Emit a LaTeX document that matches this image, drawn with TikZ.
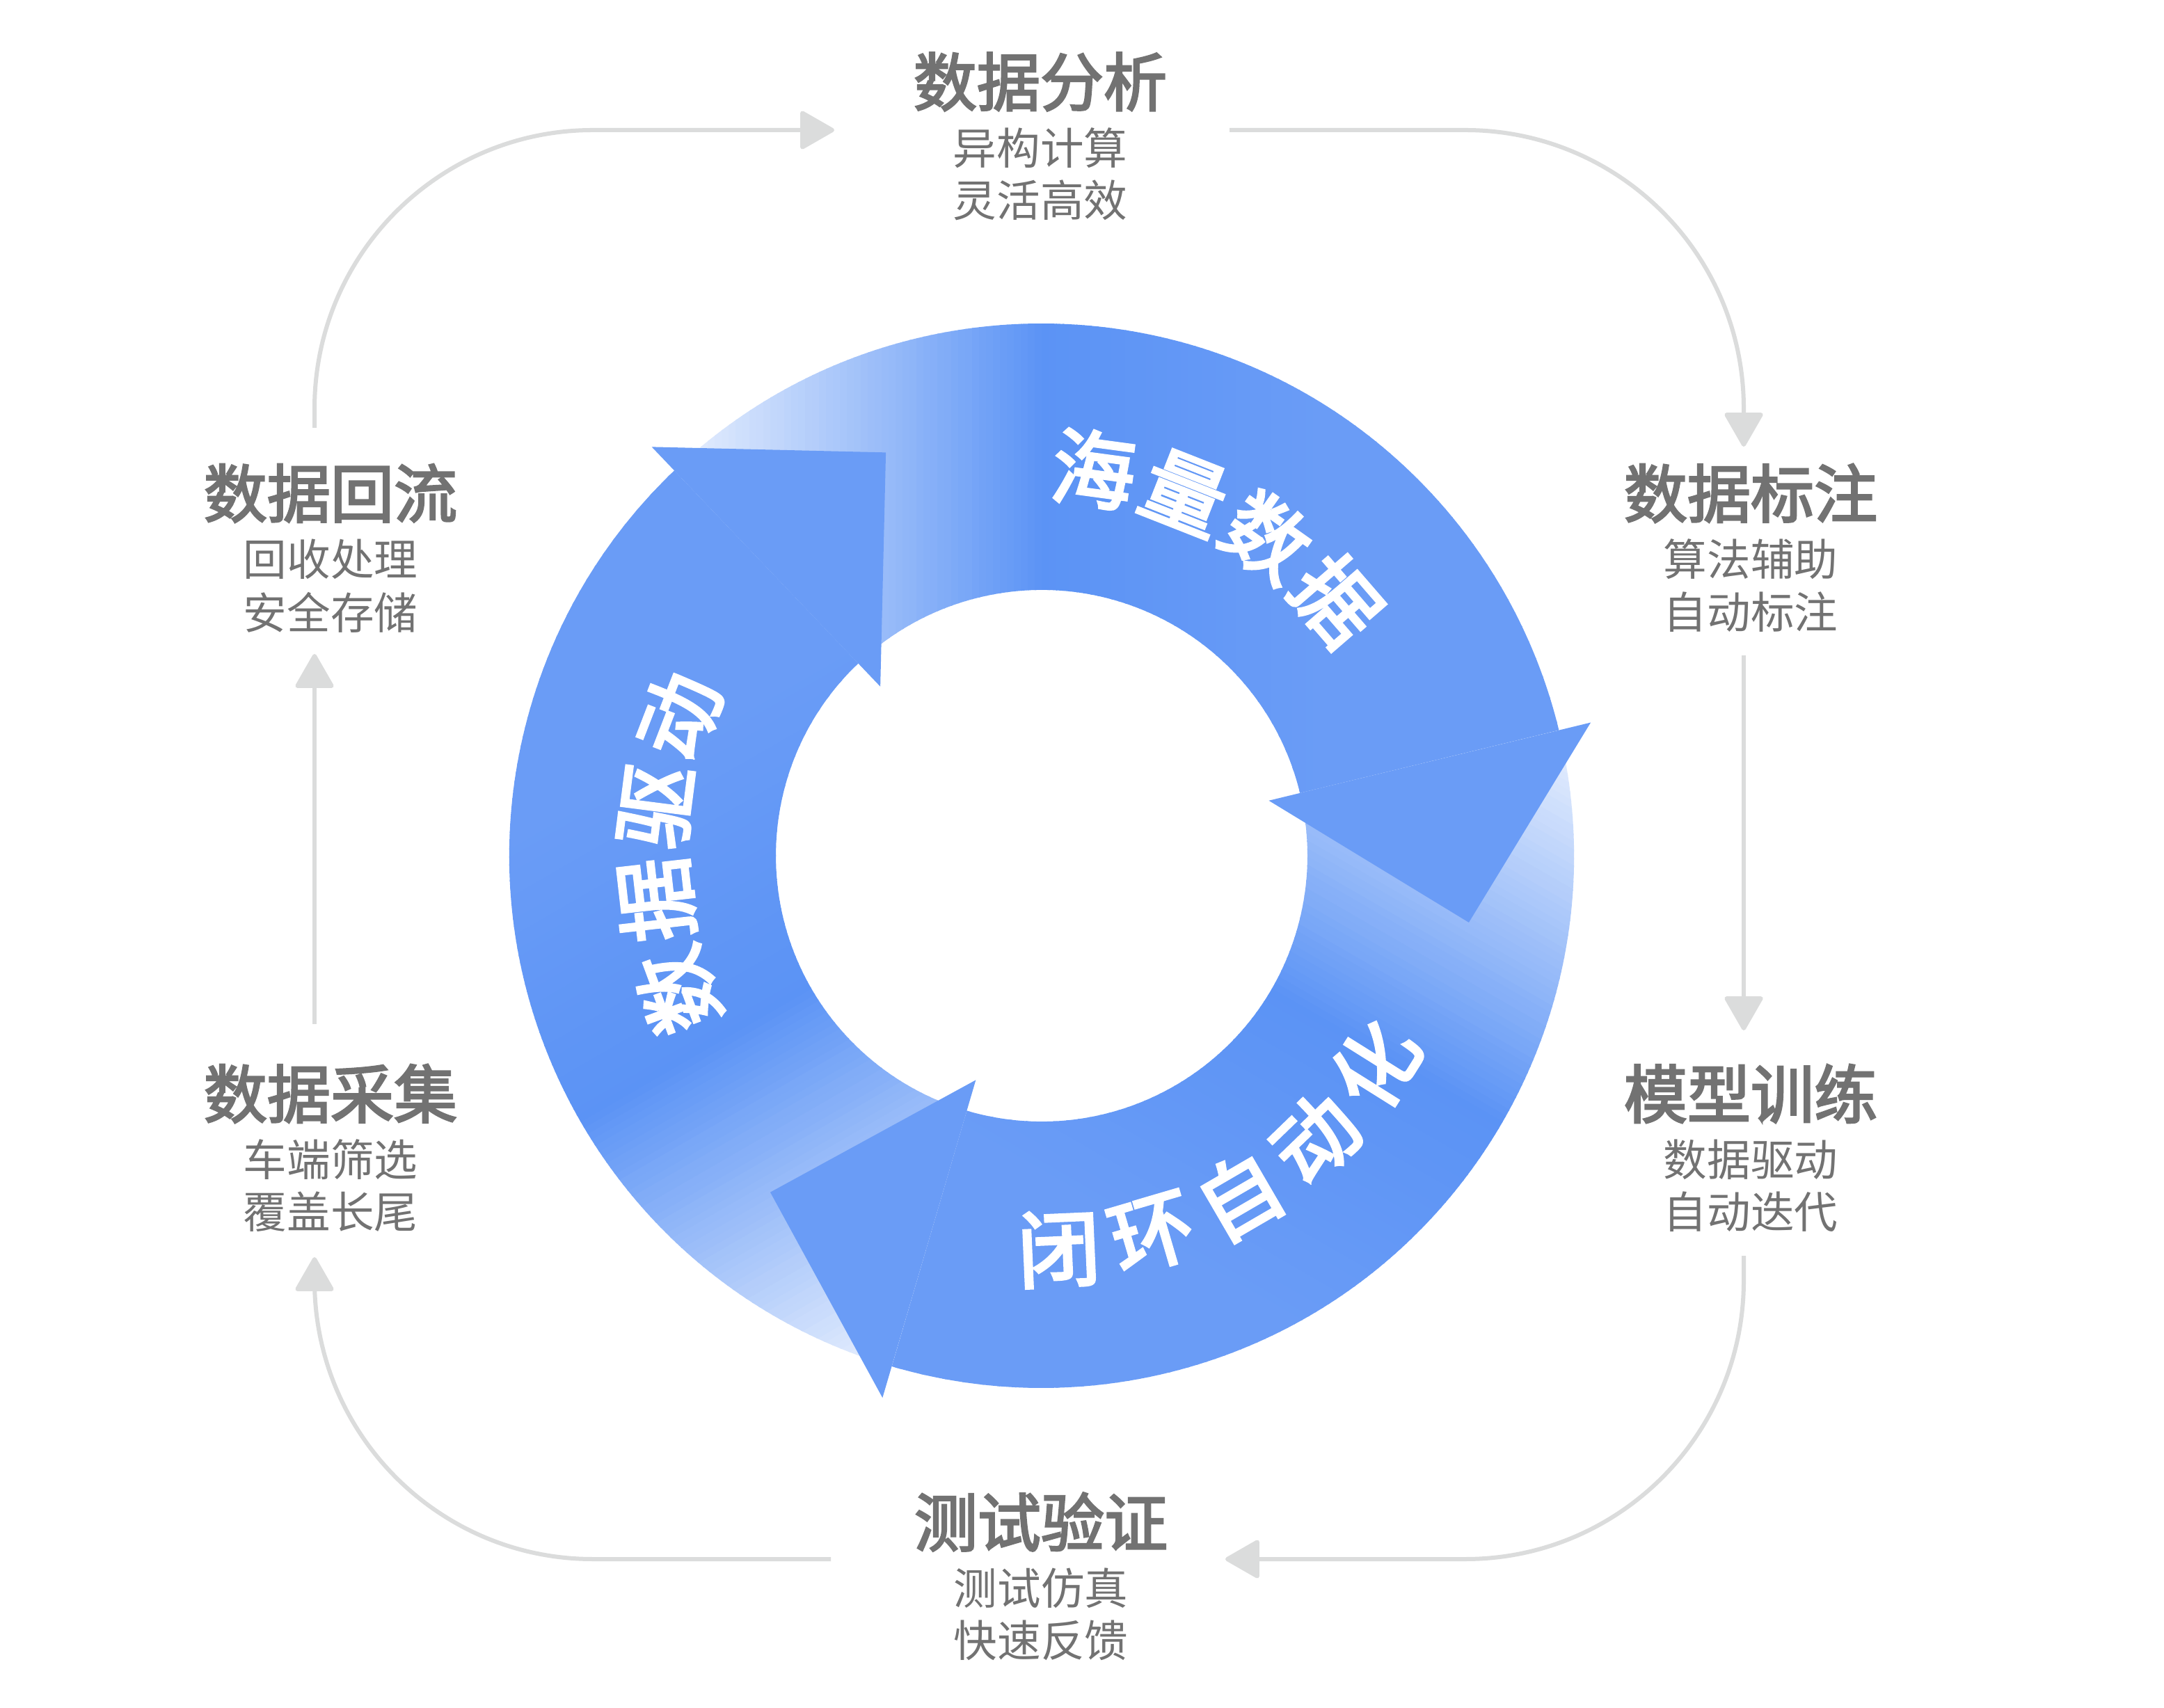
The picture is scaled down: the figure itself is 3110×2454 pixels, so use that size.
\documentclass[tikz,border=0pt]{standalone}
\usepackage{fontspec}
\newfontfamily\cjk{Noto Sans CJK SC}
\newfontfamily\cjkm[FakeBold=3]{Noto Sans CJK SC}
\newfontfamily\cjkr[FakeBold=3.5]{Noto Sans CJK SC}
\usetikzlibrary{arrows.meta}
\definecolor{blueA}{HTML}{5B93F5}
\definecolor{blueB}{HTML}{6A9CF6}
\definecolor{txtgray}{HTML}{727272}
\definecolor{linegray}{HTML}{DBDCDC}
\begin{document}
\begin{tikzpicture}[x=0.01cm,y=0.01cm,
  title/.style={font=\cjkm\fontsize{25.9}{30}\selectfont, text=txtgray, inner sep=0pt},
  sub/.style={font=\cjk\fontsize{17.8}{21}\selectfont, text=txtgray, inner sep=0pt},
  ringtxt/.style={font=\cjkr\fontsize{34}{40}\selectfont, text=white, inner sep=0pt},
  conn/.style={draw=linegray, line width=0.06cm, rounded corners=4cm,
     -{Triangle[length=0.52cm,width=0.58cm,round]}},
  headfill/.style={fill=blueB},
]
\useasboundingbox (0,0) rectangle (3110,2454);
\fill[white] (0,0) rectangle (3110,2454);

% ---------- ring ----------
\begin{scope}[shift={(1497,1224)}]
  % bodies with gradient
  \foreach \rot in {0,-120,120} {
    \begin{scope}[rotate=\rot]
      \clip (133.64:765) arc[start angle=133.64, end angle=13.64, radius=765]
        -- (13.64:382) arc[start angle=13.64, end angle=133.64, radius=382] -- cycle;
      \foreach \xx in {-800,-790,...,800} {
        \pgfmathtruncatemacro\pa{max(0,min(100,(\xx+5+613)/613*100))}
        \pgfmathtruncatemacro\pb{max(0,min(100,(\xx+5)/400*100))}
        \colorlet{scA}{blueA!\pa!white}
        \colorlet{scB}{blueB!\pb!scA}
        \fill[scB] (\xx,-830) rectangle ({\xx+12},830);
      }
    \end{scope}
  }
  % heads
  \foreach \rot in {0,-120,120} {
    \fill[headfill, rotate=\rot] (13.64:336) -- (13.64:812) -- (613.9,-95.9) -- cycle;
  }
  % ring texts
  \node[ringtxt, rotate=-7.7]  (a1) at (82.3:561) {海};
  \node[ringtxt, rotate=-21.5] (a2) at (68.5:561) {量};
  \node[ringtxt, rotate=-35.3] (a3) at (54.7:561) {数};
  \node[ringtxt, rotate=-49.1] (a4) at (40.9:561) {据};

  \node[ringtxt, rotate=110.3] (c1) at (200.3:558) {数};
  \node[ringtxt, rotate=96.5]  (c2) at (186.5:558) {据};
  \node[ringtxt, rotate=82.7]  (c3) at (172.7:558) {驱};
  \node[ringtxt, rotate=68.9]  (c4) at (158.9:558) {动};

  \node[ringtxt, rotate=2.5]   (b1) at (-87.5:566) {闭};
  \node[ringtxt, rotate=16.35] (b2) at (-73.65:566) {环};
  \node[ringtxt, rotate=30.2]  (b3) at (-59.8:566) {自};
  \node[ringtxt, rotate=44.05] (b4) at (-45.95:566) {动};
  \node[ringtxt, rotate=57.9]  (b5) at (-32.1:566) {化};
\end{scope}

% ---------- labels ----------
\node[title] (n1)  at (1495,2336.5) {数据分析};
\node[sub]   (n1a) at (1495,2241) {异构计算};
\node[sub]   (n1b) at (1495,2166) {灵活高效};

\node[title] (n2)  at (2516,1745) {数据标注};
\node[sub]   (n2a) at (2516,1650) {算法辅助};
\node[sub]   (n2b) at (2516,1574) {自动标注};

\node[title] (n3)  at (2516,882) {模型训练};
\node[sub]   (n3a) at (2516,787) {数据驱动};
\node[sub]   (n3b) at (2516,712.5) {自动迭代};

\node[title] (n4)  at (1496,266.5) {测试验证};
\node[sub]   (n4a) at (1496,171) {测试仿真};
\node[sub]   (n4b) at (1496,96) {快速反馈};

\node[title] (n5)  at (475,882) {数据采集};
\node[sub]   (n5a) at (475,787) {车端筛选};
\node[sub]   (n5b) at (475,712.5) {覆盖长尾};

\node[title] (n6)  at (475,1745) {数据回流};
\node[sub]   (n6a) at (475,1650) {回收处理};
\node[sub]   (n6b) at (475,1574) {安全存储};

% ---------- connectors ----------
\coordinate (p1s) at (452,1839);  \coordinate (p1k) at (452,2267);  \coordinate (p1e) at (1199,2267);
\coordinate (p2s) at (1767,2267); \coordinate (p2k) at (2506,2267); \coordinate (p2e) at (2506,1812);
\coordinate (p3s) at (2506,1512); \coordinate (p3e) at (2506,973);
\coordinate (p4s) at (2506,649);  \coordinate (p4k) at (2506,213);  \coordinate (p4e) at (1761,213);
\coordinate (p5s) at (1194,213);  \coordinate (p5k) at (452,213);   \coordinate (p5e) at (452,647);
\coordinate (p6s) at (452,982);   \coordinate (p6e) at (452,1514);

\draw[conn] (p1s) -- (p1k) -- (p1e);
\draw[conn] (p2s) -- (p2k) -- (p2e);
\draw[conn] (p3s) -- (p3e);
\draw[conn] (p4s) -- (p4k) -- (p4e);
\draw[conn] (p5s) -- (p5k) -- (p5e);
\draw[conn] (p6s) -- (p6e);
\end{tikzpicture}
\end{document}
